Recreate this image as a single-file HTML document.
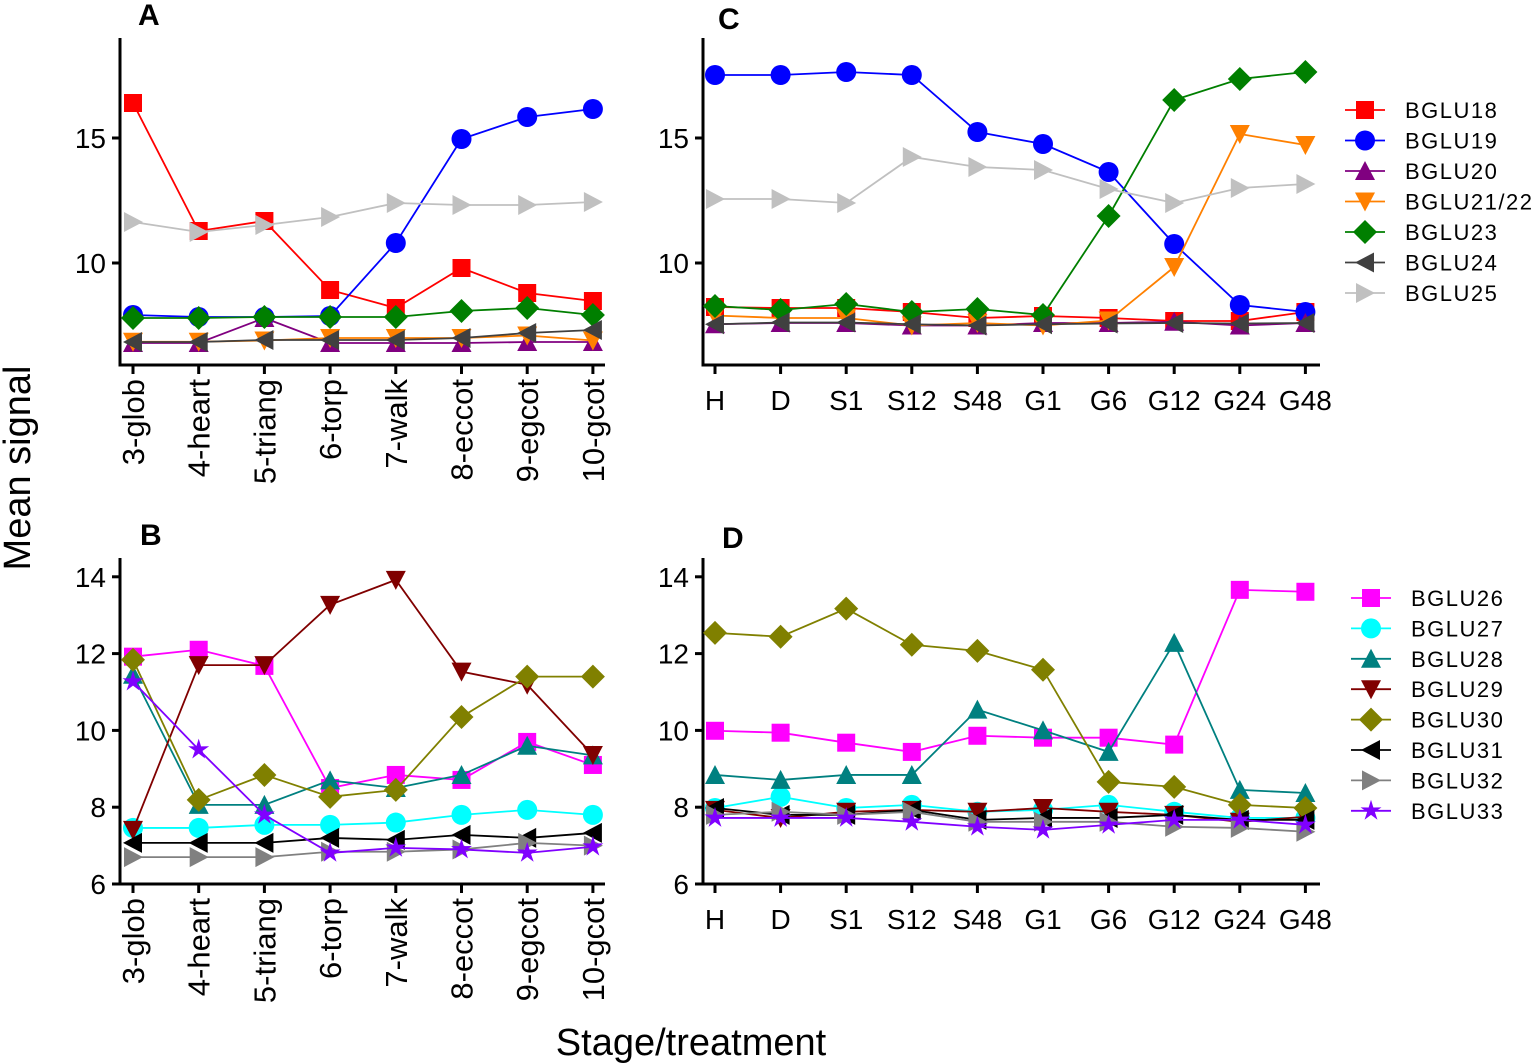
<!DOCTYPE html>
<html><head><meta charset="utf-8"><style>
html,body{margin:0;padding:0;background:#fff;}
svg{display:block;font-family:"Liberation Sans",sans-serif;}
</style></head><body>
<svg id="fig" width="1535" height="1063" viewBox="0 0 1535 1063" xmlns="http://www.w3.org/2000/svg"></svg>
<script>
const stagesAB = ["3-glob","4-heart","5-triang","6-torp","7-walk","8-eccot","9-egcot","10-gcot"];
const treatCD = ["H","D","S1","S12","S48","G1","G6","G12","G24","G48"];
const namesTop = ["BGLU18","BGLU19","BGLU20","BGLU21/22","BGLU23","BGLU24","BGLU25"];
const namesBot = ["BGLU26","BGLU27","BGLU28","BGLU29","BGLU30","BGLU31","BGLU32","BGLU33"];
const ticksTop = [10,15];
const ticksBot = [6,8,10,12,14];
// Panel A
const A18=[16.4,11.28,11.68,8.92,8.2,9.8,8.8,8.48];
const A19=[7.92,7.84,7.84,7.88,10.8,14.96,15.84,16.16];
const A20=[6.8,6.8,7.8,6.8,6.8,6.8,6.84,6.84];
const A21=[6.85,6.85,6.9,7.0,7.0,7.0,7.1,6.9];
const A23=[7.8,7.8,7.84,7.84,7.84,8.08,8.2,7.92];
const A24=[6.84,6.84,6.92,6.92,6.92,7.0,7.2,7.32];
const A25=[11.64,11.24,11.52,11.84,12.4,12.32,12.32,12.44];
// Panel C
const C18=[8.24,8.2,8.2,8.04,7.8,7.88,7.8,7.68,7.68,8.04];
const C19=[17.52,17.52,17.64,17.52,15.24,14.76,13.64,10.76,8.32,8.04];
const C20=[7.55,7.6,7.6,7.5,7.5,7.6,7.6,7.65,7.5,7.6];
const C21=[7.9,7.8,7.8,7.5,7.6,7.5,7.7,9.84,15.16,14.72];
const C23=[8.28,8.12,8.36,8.04,8.16,7.92,11.88,16.52,17.36,17.64];
const C24=[7.55,7.62,7.62,7.55,7.5,7.55,7.58,7.6,7.58,7.6];
const C25=[12.56,12.56,12.4,14.24,13.84,13.72,12.96,12.4,13.0,13.16];
// Panel B
const B26=[11.92,12.1,11.68,8.5,8.84,8.71,9.7,9.1];
const B27=[7.46,7.46,7.54,7.54,7.6,7.8,7.93,7.8];
const B28=[11.45,8.06,8.06,8.7,8.5,8.84,9.6,9.35];
const B29=[7.41,11.7,11.7,13.27,13.92,11.53,11.19,9.36];
const B30=[11.84,8.19,8.84,8.27,8.45,10.35,11.4,11.4];
const B31=[7.07,7.07,7.07,7.2,7.15,7.28,7.2,7.33];
const B32=[6.7,6.7,6.7,6.84,6.84,6.9,7.07,7.0];
const B33=[11.27,9.5,7.8,6.81,6.94,6.9,6.81,6.97];
// Panel D
const D26=[9.99,9.94,9.68,9.44,9.86,9.81,9.81,9.63,13.66,13.61];
const D27=[7.98,8.27,7.98,8.06,7.88,7.93,8.06,7.88,7.72,7.72];
const D28=[8.84,8.71,8.84,8.84,10.54,10.0,9.44,12.28,8.45,8.37];
const D29=[7.93,7.72,7.88,7.93,7.88,7.98,7.88,7.8,7.62,7.75];
const D30=[12.54,12.44,13.17,12.23,12.07,11.58,8.66,8.53,8.06,7.98];
const D31=[7.98,7.8,7.8,7.93,7.67,7.72,7.72,7.8,7.67,7.67];
const D32=[7.8,7.88,7.8,7.88,7.62,7.62,7.62,7.49,7.46,7.36];
const D33=[7.72,7.72,7.72,7.62,7.49,7.41,7.54,7.67,7.67,7.54];

const styleTop=[["#ff0000","square"],["#0000ff","circle"],["#800080","up"],["#ff8000","down"],["#007f00","diamond"],["#404040","left"],["#c0c0c0","right"]];
const styleBot=[["#ff00ff","square"],["#00ffff","circle"],["#008080","up"],["#800000","down"],["#808000","diamond"],["#000000","left"],["#808080","right"],["#8000ff","star"]];

const NS="http://www.w3.org/2000/svg";
const svg=document.getElementById('fig');
function mk(tag,attrs,parent){const e=document.createElementNS(NS,tag);for(const k in attrs)e.setAttribute(k,attrs[k]);(parent||svg).appendChild(e);return e;}

function marker(g,shape,x,y,c){
  const s=9;let e;
  if(shape==="square")e=mk('rect',{x:x-s,y:y-s,width:2*s,height:2*s,fill:c},g);
  else if(shape==="circle")e=mk('circle',{cx:x,cy:y,r:s+1,fill:c},g);
  else{
    let p;
    if(shape==="up")p=[[x,y-s-1],[x+s+1,y+s],[x-s-1,y+s]];
    else if(shape==="down")p=[[x,y+s+1],[x+s+1,y-s],[x-s-1,y-s]];
    else if(shape==="left")p=[[x-s-1,y],[x+s,y-s-1],[x+s,y+s+1]];
    else if(shape==="right")p=[[x+s+1,y],[x-s,y-s-1],[x-s,y+s+1]];
    else if(shape==="diamond")p=[[x,y-s-3],[x+s+3,y],[x,y+s+3],[x-s-3,y]];
    else{p=[];for(let i=0;i<10;i++){const r=i%2?s*0.45:s+2;const a=-Math.PI/2+i*Math.PI/5;p.push([x+r*Math.cos(a),y+r*Math.sin(a)]);}}
    e=mk('polygon',{points:p.map(q=>q.join(',')).join(' '),fill:c},g);
  }
  
  
}

function panel(o){
  const g=mk('g',{});
  
  
  const yS=v=>o.y0-(v-o.vmin)*o.ppu;
  const xS=i=>o.x1+i*o.dx;
  const ax=mk('path',{d:`M${o.left},${o.top}V${o.bottom}H${o.right}`,stroke:'#000','stroke-width':3,fill:'none'},g);
  
  
  o.ticks.forEach(t=>{
    const y=yS(t);
    mk('line',{x1:o.left-8,x2:o.left,y1:y,y2:y,stroke:'#000','stroke-width':3},g);
    const tx=mk('text',{x:o.left-14,y:y+10,'text-anchor':'end','font-size':28},g);tx.textContent=t;
    
    
  });
  o.cats.forEach((c,i)=>{
    const x=xS(i);
    mk('line',{x1:x,x2:x,y1:o.bottom,y2:o.bottom+9,stroke:'#000','stroke-width':3},g);
    let tx;
    if(o.rot){tx=mk('text',{x:0,y:0,'text-anchor':'end','font-size':31,transform:`translate(${x+11},${o.bottom+14}) rotate(-90)`},g);}
    else tx=mk('text',{x:x,y:o.bottom+45,'text-anchor':'middle','font-size':28},g);
    tx.textContent=c;
    
    
  });
  o.series.forEach((d,si)=>{
    const [c,sh]=o.styles[si];
    const sg=mk('g',{},g);
    
    
    mk('polyline',{points:d.map((v,i)=>xS(i)+','+yS(v)).join(' '),stroke:c,'stroke-width':1.8,fill:'none'},sg);
    d.forEach((v,i)=>marker(sg,sh,xS(i),yS(v),c));
  });
  const lt=mk('text',{x:o.lx,y:o.ly,'font-size':30,'font-weight':'bold'},g);lt.textContent=o.label;
  
  
  if(o.leg){
    const lg=mk('g',{},g);
    
    
    o.names.forEach((n,i)=>{
      const y=o.leg.y+i*o.leg.dy;const [c,sh]=o.styles[i];
      const eg=mk('g',{},lg);
      
      
      mk('line',{x1:o.leg.x,x2:o.leg.x+40,y1:y,y2:y,stroke:c,'stroke-width':1.8},eg);
      marker(eg,sh,o.leg.x+20,y,c);
      const t=mk('text',{x:o.leg.x+60,y:y+8,'font-size':22,'letter-spacing':1.5},eg);t.textContent=n;
    });
  }
}
panel({name:'panel-a',left:120,right:605,top:38,bottom:365,x1:133,dx:65.7,y0:263,vmin:10,ppu:25,ticks:ticksTop,cats:stagesAB,rot:true,series:[A18,A19,A20,A21,A23,A24,A25],styles:styleTop,names:namesTop,label:'A',lx:138,ly:25});
panel({name:'panel-c',left:703,right:1320,top:38,bottom:365,x1:715,dx:65.6,y0:263,vmin:10,ppu:25,ticks:ticksTop,cats:treatCD,rot:false,series:[C18,C19,C20,C21,C23,C24,C25],styles:styleTop,names:namesTop,label:'C',lx:718,ly:29,leg:{x:1345,y:110,dy:30.5}});
panel({name:'panel-b',left:120,right:605,top:558,bottom:884,x1:133,dx:65.7,y0:884,vmin:6,ppu:38.4,ticks:ticksBot,cats:stagesAB,rot:true,series:[B26,B27,B28,B29,B30,B31,B32,B33],styles:styleBot,names:namesBot,label:'B',lx:140,ly:545});
panel({name:'panel-d',left:703,right:1320,top:558,bottom:884,x1:715,dx:65.6,y0:884,vmin:6,ppu:38.4,ticks:ticksBot,cats:treatCD,rot:false,series:[D26,D27,D28,D29,D30,D31,D32,D33],styles:styleBot,names:namesBot,label:'D',lx:722,ly:548,leg:{x:1351,y:598,dy:30.4}});
const yt=mk('text',{x:0,y:0,'text-anchor':'middle','font-size':38,transform:'translate(30,468) rotate(-90)'});yt.textContent='Mean signal';


const xt=mk('text',{x:691,y:1055,'text-anchor':'middle','font-size':38});xt.textContent='Stage/treatment';


</script>
</body></html>
